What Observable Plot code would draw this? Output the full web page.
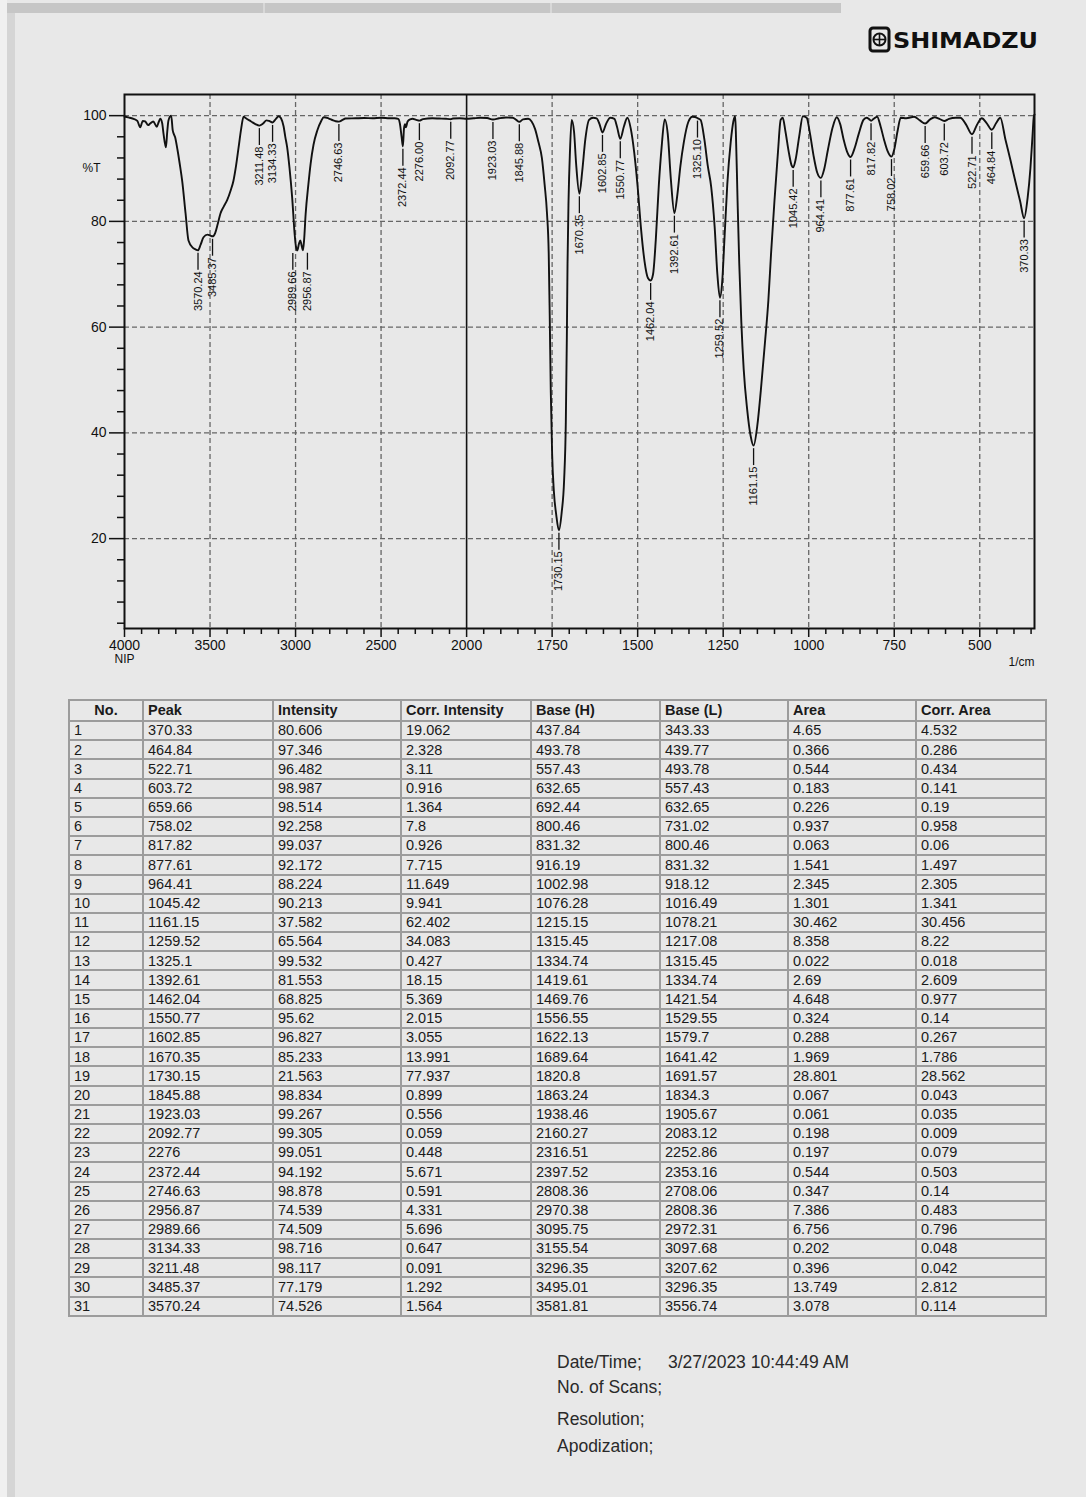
<!DOCTYPE html>
<html>
<head>
<meta charset="utf-8">
<script src="https://cdn.jsdelivr.net/npm/d3@7"></script>
<script src="https://cdn.jsdelivr.net/npm/@observablehq/plot@0.6"></script>
<style>
  html, body { margin: 0; padding: 0; }
  body {
    width: 1086px; height: 1497px; position: relative; overflow: hidden;
    background: #e8e8e8; font-family: "Liberation Sans", Arial, sans-serif; color: #1c1c1c;
  }
  #edge { position: absolute; left: 0; top: 0; width: 7px; height: 1497px; background: #f0f0f0; }
  #strip { position: absolute; left: 7px; top: 13px; width: 8px; height: 1484px; background: #d5d5d5; }
  #topbar { position: absolute; left: 7px; top: 3px; width: 834px; height: 10px; background: #c6c6c6; }
  #topbar i { position: absolute; top: 0; width: 2px; height: 10px; background: #d8d8d8; }
  #logo { position: absolute; left: 860px; top: 20px; }
  #chart { position: absolute; left: 0; top: 0; }
  #peaks {
    position: absolute; left: 68px; top: 699px; width: 977px;
    border-collapse: collapse; table-layout: fixed;
    font-size: 14.5px; color: #1a1a1a;
  }
  #peaks th, #peaks td {
    border: 2px solid #9c9c9c; padding: 0 0 0 4px; text-align: left;
    white-space: nowrap; line-height: 1; overflow: hidden;
  }
  #peaks thead tr { height: 21px; }
  #peaks tbody tr { height: 19.2px; }
  #peaks th { font-weight: bold; }
  #peaks th.no { text-align: center; padding: 0; }
  #info { position: absolute; left: 557px; top: 1352px; font-size: 17.5px; color: #2a2a2a; }
  #info div { position: absolute; white-space: nowrap; left: 0; }
</style>
</head>
<body>
<div id="edge"></div>
<div id="strip"></div>
<div id="topbar"><i style="left:256px"></i><i style="left:543px"></i></div>

<svg id="logo" width="185" height="40">
  <rect x="10" y="8" width="19" height="23" rx="3" fill="none" stroke="#111" stroke-width="3"/>
  <circle cx="19.5" cy="19.5" r="6" fill="none" stroke="#111" stroke-width="2"/>
  <line x1="13.5" y1="19.5" x2="25.5" y2="19.5" stroke="#111" stroke-width="1.6"/>
  <line x1="19.5" y1="13.5" x2="19.5" y2="25.5" stroke="#111" stroke-width="1.6"/>
  <text x="33" y="28" font-family="'DejaVu Sans', sans-serif" font-weight="bold" font-size="21"
        textLength="145" lengthAdjust="spacingAndGlyphs" fill="#111">SHIMADZU</text>
</svg>

<div id="chart"></div>

<table id="peaks">
  <colgroup>
    <col style="width:74px"><col style="width:130px"><col style="width:128px"><col style="width:130px">
    <col style="width:129px"><col style="width:128px"><col style="width:128px"><col style="width:130px">
  </colgroup>
  <thead><tr id="head"></tr></thead>
  <tbody id="rows"></tbody>
</table>

<div id="info">
  <div style="top:0">Date/Time;</div>
  <div style="top:0;left:111px">3/27/2023 10:44:49 AM</div>
  <div style="top:25px">No. of Scans;</div>
  <div style="top:57px">Resolution;</div>
  <div style="top:84px">Apodization;</div>
</div>

<script>
// ---- Peak table -------------------------------------------------------
const columns = ["No.", "Peak", "Intensity", "Corr. Intensity", "Base (H)", "Base (L)", "Area", "Corr. Area"];
const peakNo = [1,2,3,4,5,6,7,8,9,10,11,12,13,14,15,16,17,18,19,20,21,22,23,24,25,26,27,28,29,30,31];
const peakPos = [370.33, 464.84, 522.71, 603.72, 659.66, 758.02, 817.82, 877.61, 964.41, 1045.42,
  1161.15, 1259.52, 1325.1, 1392.61, 1462.04, 1550.77, 1602.85, 1670.35, 1730.15, 1845.88,
  1923.03, 2092.77, 2276, 2372.44, 2746.63, 2956.87, 2989.66, 3134.33, 3211.48, 3485.37, 3570.24];
const intensity = [80.606, 97.346, 96.482, 98.987, 98.514, 92.258, 99.037, 92.172, 88.224, 90.213,
  37.582, 65.564, 99.532, 81.553, 68.825, 95.62, 96.827, 85.233, 21.563, 98.834,
  99.267, 99.305, 99.051, 94.192, 98.878, 74.539, 74.509, 98.716, 98.117, 77.179, 74.526];
const corrIntensity = [19.062, 2.328, 3.11, 0.916, 1.364, 7.8, 0.926, 7.715, 11.649, 9.941,
  62.402, 34.083, 0.427, 18.15, 5.369, 2.015, 3.055, 13.991, 77.937, 0.899,
  0.556, 0.059, 0.448, 5.671, 0.591, 4.331, 5.696, 0.647, 0.091, 1.292, 1.564];
const baseH = [437.84, 493.78, 557.43, 632.65, 692.44, 800.46, 831.32, 916.19, 1002.98, 1076.28,
  1215.15, 1315.45, 1334.74, 1419.61, 1469.76, 1556.55, 1622.13, 1689.64, 1820.8, 1863.24,
  1938.46, 2160.27, 2316.51, 2397.52, 2808.36, 2970.38, 3095.75, 3155.54, 3296.35, 3495.01, 3581.81];
const baseL = [343.33, 439.77, 493.78, 557.43, 632.65, 731.02, 800.46, 831.32, 918.12, 1016.49,
  1078.21, 1217.08, 1315.45, 1334.74, 1421.54, 1529.55, 1579.7, 1641.42, 1691.57, 1834.3,
  1905.67, 2083.12, 2252.86, 2353.16, 2708.06, 2808.36, 2972.31, 3097.68, 3207.62, 3296.35, 3556.74];
const area = [4.65, 0.366, 0.544, 0.183, 0.226, 0.937, 0.063, 1.541, 2.345, 1.301,
  30.462, 8.358, 0.022, 2.69, 4.648, 0.324, 0.288, 1.969, 28.801, 0.067,
  0.061, 0.198, 0.197, 0.544, 0.347, 7.386, 6.756, 0.202, 0.396, 13.749, 3.078];
const corrArea = [4.532, 0.286, 0.434, 0.141, 0.19, 0.958, 0.06, 1.497, 2.305, 1.341,
  30.456, 8.22, 0.018, 2.609, 0.977, 0.14, 0.267, 1.786, 28.562, 0.043,
  0.035, 0.009, 0.079, 0.503, 0.14, 0.483, 0.796, 0.048, 0.042, 2.812, 0.114];

// ---- Spectrum trace between the listed peaks (1/cm, %T) ---------------
const traceWn = [4000, 3996, 3970, 3947, 3925, 3908, 3893, 3879, 3862, 3850, 3832, 3811, 3800, 3791,
  3780, 3772, 3758, 3750, 3743, 3727, 3718, 3704, 3690, 3674, 3663, 3643, 3626, 3600, 3585,
  3555, 3538, 3515, 3500, 3470, 3455, 3439, 3420, 3400, 3380, 3363, 3348, 3333, 3318, 3304,
  3290, 3260, 3235, 3190, 3170, 3155, 3115, 3098, 3085, 3070, 3060, 3049, 3035, 3020, 3005, 2998,
  2980, 2972, 2965, 2950, 2941, 2925, 2912, 2895, 2873, 2850, 2835, 2808, 2780, 2765,
  2725, 2708, 2650, 2600, 2550, 2500, 2450, 2420, 2400, 2390, 2380, 2366, 2360, 2355, 2345,
  2330, 2316, 2295, 2255, 2200, 2160, 2120, 2100, 2080, 2040, 2000, 1980, 1960, 1940,
  1905, 1885, 1865, 1855, 1835, 1820, 1810, 1800, 1790, 1780, 1772, 1765, 1760, 1757, 1754,
  1750, 1745, 1738, 1722, 1715, 1710, 1707, 1705, 1702, 1698, 1693, 1686, 1680,
  1662, 1653, 1642, 1630, 1620, 1612, 1592, 1580, 1568, 1560, 1540, 1530, 1520, 1510, 1500,
  1490, 1480, 1470, 1455, 1447, 1438, 1430, 1421, 1412, 1403, 1384, 1375, 1365, 1352, 1340,
  1332, 1316, 1305, 1295, 1285, 1275, 1267, 1253, 1246, 1238, 1228, 1220, 1215, 1213, 1208,
  1203, 1197, 1190, 1180, 1170, 1150, 1140, 1128, 1118, 1110, 1100, 1090, 1082, 1076, 1068,
  1058, 1050, 1038, 1028, 1017, 1006, 996, 986, 975, 955, 944, 930, 918, 908, 898, 888,
  866, 854, 840, 831, 823, 810, 800, 790, 780, 770, 750, 740, 731, 715, 692, 675,
  645, 632, 618, 590, 570, 557, 540, 508, 494, 480, 452, 440, 425, 410, 395, 382,
  360, 352, 346, 342, 340];
const traceT = [99.8, 99.8, 99.6, 99.4, 99.0, 97.8, 99.0, 98.9, 98.2, 98.5, 98.9, 97.9, 98.8, 99.4,
  98.6, 96.6, 94.0, 97.0, 99.1, 100.0, 97.2, 95.9, 93.5, 90.2, 87.7, 81.5, 76.4, 75.0, 74.7,
  75.6, 77.0, 77.5, 77.35, 77.8, 79.5, 81.5, 82.8, 84.0, 85.8, 87.7, 90.5, 94.0, 97.5, 99.8,
  99.5, 98.9, 98.4, 98.5, 99.1, 99.0, 99.4, 99.9, 99.5, 98.0, 96.0, 94.0, 90.0, 84.6, 77.5, 75.3,
  75.8, 76.4, 75.5, 76.5, 81.4, 87.0, 90.9, 94.5, 97.2, 99.0, 99.7, 99.5, 99.1, 98.95,
  99.2, 99.45, 99.5, 99.55, 99.5, 99.6, 99.5, 99.5, 99.4, 98.5, 96.0, 97.6, 98.4, 97.8, 98.9,
  99.3, 99.4, 99.2, 99.35, 99.5, 99.45, 99.4, 99.35, 99.45, 99.5, 99.4, 99.5, 99.6, 99.55,
  99.5, 99.65, 99.6, 99.2, 99.3, 99.4, 98.9, 97.5, 95.0, 92.0, 87.0, 81.5, 74.0, 62.0, 48.0,
  36.0, 29.0, 24.5, 25.0, 31.0, 42.0, 58.0, 72.0, 84.0, 93.0, 99.2, 97.0, 91.0,
  89.5, 95.5, 99.2, 99.6, 99.5, 98.5, 98.5, 99.6, 99.4, 97.8, 98.0, 99.6, 97.5, 93.0, 86.5,
  78.5, 72.5, 69.3, 70.0, 76.5, 87.0, 94.0, 99.3, 96.5, 88.0, 85.0, 90.5, 95.0, 98.8, 99.8,
  99.75, 99.2, 95.5, 90.5, 86.5, 79.0, 70.0, 68.5, 77.0, 87.0, 95.0, 99.0, 99.9, 97.0, 84.0,
  72.0, 61.0, 52.0, 44.5, 39.5, 41.5, 48.0, 57.0, 65.0, 74.0, 84.0, 93.0, 99.2, 99.6, 97.0,
  93.0, 90.6, 91.8, 96.0, 99.9, 99.6, 96.5, 92.5, 89.2, 89.8, 93.5, 97.8, 99.7, 98.4, 95.5, 93.2,
  93.8, 96.5, 99.2, 99.6, 99.3, 99.4, 99.8, 98.0, 95.5, 93.4, 93.6, 97.2, 99.6, 99.5, 99.8, 99.1,
  99.3, 99.7, 99.4, 99.4, 99.6, 99.6, 98.3, 98.3, 99.5, 98.6, 98.6, 99.6, 95.5, 91.5, 87.3, 83.8,
  84.5, 90.0, 96.0, 99.8, 100.2];

// ---- Axis ticks ----------------------------------------------------------
const xMajor = [4000, 3500, 3000, 2500, 2000, 1750, 1500, 1250, 1000, 750, 500];
const xMinor = d3.range(3900, 2000, -100).concat(d3.range(1950, 340, -50)).filter(v => !xMajor.includes(v));
const xGrid = xMajor.filter(v => v !== 4000 && v !== 2000);
const yMajor = [20, 40, 60, 80, 100];
const yMinor = d3.range(4, 104, 4).filter(v => !yMajor.includes(v));

// The wavenumber axis is drawn at half scale above 2000 1/cm.
const xStart = 4000, xBreak = 2000, xEnd = 340;
const compress = w => w >= xBreak ? (xStart - w) / 2 : (xStart - xBreak) / 2 + (xBreak - w);

// ---- Table ---------------------------------------------------------------
const head = document.getElementById("head");
columns.forEach((c, i) => {
  const th = document.createElement("th");
  th.textContent = c;
  if (i === 0) th.className = "no";
  head.appendChild(th);
});
const body = document.getElementById("rows");
peakNo.forEach((n, i) => {
  const tr = document.createElement("tr");
  [n, peakPos[i], intensity[i], corrIntensity[i], baseH[i], baseL[i], area[i], corrArea[i]].forEach(v => {
    const td = document.createElement("td");
    td.textContent = String(v);
    tr.appendChild(td);
  });
  body.appendChild(tr);
});

// ---- Spectrum ------------------------------------------------------------
const width = 1086, marginLeft = 124, marginRight = 52;
const pxPerUnit = (width - marginLeft - marginRight) / (compress(xEnd) - compress(xStart));

const peaks = peakPos.map((w, i) => ({wn: w, t: intensity[i], label: w.toFixed(2), side: 0}))
  .sort((a, b) => b.wn - a.wn);
// push apart labels of peaks that sit too close to share a column
for (let i = 1; i < peaks.length; i++) {
  if ((compress(peaks[i].wn) - compress(peaks[i - 1].wn)) * pxPerUnit < 9) {
    peaks[i - 1].side = -1;
    peaks[i].side = 1;
  }
}
const spectrum = traceWn.map((w, i) => ({wn: w, t: traceT[i]}))
  .concat(peaks.map(p => ({wn: p.wn, t: p.t})))
  .sort((a, b) => b.wn - a.wn);

const ink = "#111";
const labelMarks = [-1, 0, 1].flatMap(side => {
  const group = peaks.filter(p => p.side === side);
  const dx = side * 4.5;
  return [
    Plot.ruleX(group, {x: "wn", y1: "t", y2: d => d.t - 3.2, dx, dy: 3, stroke: ink, strokeWidth: 1.3}),
    Plot.text(group, {x: "wn", y: "t", text: "label", rotate: -90, textAnchor: "end", dx, dy: 21,
      fontSize: 11, fill: ink})
  ];
});

const chart = Plot.plot({
  width,
  height: 690,
  marginTop: 94,
  marginBottom: 62,
  marginLeft,
  marginRight,
  style: {background: "transparent", fontFamily: "'Liberation Sans', Arial, sans-serif", color: ink},
  x: {transform: compress, domain: [compress(xStart), compress(xEnd)], label: null},
  y: {domain: [3, 104], label: null},
  marks: [
    Plot.gridY(yMajor, {stroke: "#666", strokeOpacity: 1, strokeWidth: 1.3, strokeDasharray: "5,3"}),
    Plot.gridX(xGrid, {stroke: "#666", strokeOpacity: 1, strokeWidth: 1.3, strokeDasharray: "5,3"}),
    Plot.ruleX([xBreak], {stroke: ink, strokeWidth: 1.6}),
    Plot.line(spectrum, {x: "wn", y: "t", stroke: ink, strokeWidth: 1.9, curve: "monotone-x"}),
    ...labelMarks,
    Plot.frame({stroke: ink, strokeWidth: 2}),
    Plot.axisX(xMajor, {tickSize: 9, tickPadding: 3, strokeWidth: 1.5, fontSize: 14, label: null,
      tickFormat: d => String(d)}),
    Plot.axisX(xMinor, {tickSize: 6, strokeWidth: 1.5, label: null, tickFormat: () => ""}),
    Plot.axisY(yMajor, {tickSize: 15, tickPadding: 3, strokeWidth: 1.5, fontSize: 14, label: null,
      tickFormat: d => String(d)}),
    Plot.axisY(yMinor, {tickSize: 7, strokeWidth: 1.5, label: null, tickFormat: () => ""}),
    Plot.text(["%T"], {y: [90], frameAnchor: "left", dx: -42, textAnchor: "start", fontSize: 12, fill: ink}),
    Plot.text(["NIP"], {x: [xStart], frameAnchor: "bottom", dy: 34, fontSize: 12, fill: ink}),
    Plot.text(["1/cm"], {frameAnchor: "bottom-right", dy: 37, textAnchor: "end", fontSize: 12, fill: ink})
  ]
});
document.getElementById("chart").appendChild(chart);
</script>
</body>
</html>
